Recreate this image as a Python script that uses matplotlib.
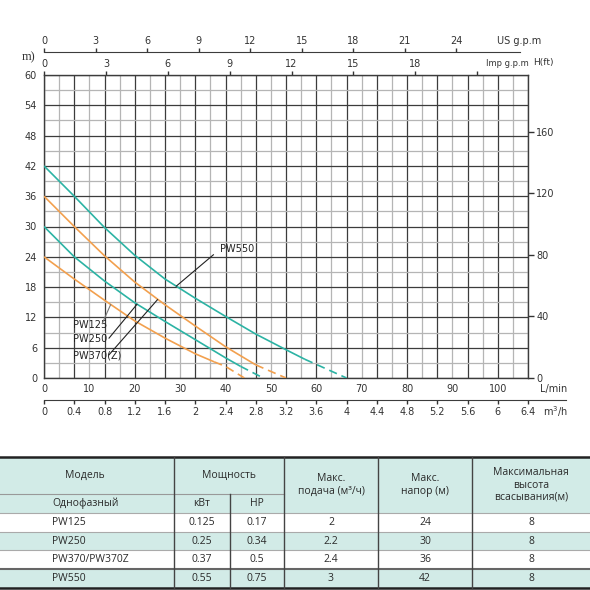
import numpy as np
import matplotlib
matplotlib.use('Agg')
import matplotlib.pyplot as plt
from matplotlib.ticker import MultipleLocator
from matplotlib.patches import Rectangle

plt.rcParams['font.family'] = ['Liberation Sans Narrow', 'DejaVu Sans']

# pump curves: flow Q (m3/h) vs head H (m); dashed beyond q_dash
q_pw125 = [0, 0.4, 0.8, 1.2, 1.6, 2.0, 2.25, 2.4, 2.65]
h_pw125 = [24, 19.6, 15.4, 11.3, 7.9, 4.8, 3.2, 2.3, 0]
q_pw250 = [0, 0.4, 0.8, 1.2, 1.6, 2.0, 2.4, 2.6, 2.9]
h_pw250 = [30, 24, 19.2, 14.9, 11.2, 7.6, 4.0, 2.3, 0]
q_pw370 = [0, 0.4, 0.8, 1.2, 1.6, 2.0, 2.4, 2.8, 3.2]
h_pw370 = [36, 30, 24.2, 19, 14.5, 10.3, 6.2, 2.6, 0]
q_pw550 = [0, 0.4, 0.8, 1.2, 1.6, 2.0, 2.4, 2.8, 3.2, 3.45, 3.6, 4.0]
h_pw550 = [42, 36, 29.8, 24.3, 19.6, 15.8, 12.2, 8.7, 5.6, 3.7, 2.7, 0]
q_dash = [2.25, 2.6, 2.8, 3.45]

curve_names = ['PW125', 'PW250', 'PW370(Z)', 'PW550']
curve_colors = ['#f2a04e', '#2cb3a4', '#f2a04e', '#2cb3a4']

# table
col_head = ['Модель', 'Мощность', 'Макс.\nподача (м³/ч)', 'Макс.\nнапор (м)',
            'Максимальная\nвысота\nвсасывания(м)']
sub_head = ['Однофазный', 'кВт', 'HP']
models = ['PW125', 'PW250', 'PW370/PW370Z', 'PW550']
kw = ['0.125', '0.25', '0.37', '0.55']
hp = ['0.17', '0.34', '0.5', '0.75']
max_flow = ['2', '2.2', '2.4', '3']
max_head = ['24', '30', '36', '42']
max_suction = ['8', '8', '8', '8']

W = 590
fig = plt.figure(figsize=(5.9, 5.9), dpi=100)
ax = fig.add_axes([44/W, 1-378/W, 484/W, 303/W])
ax.set_xlim(0, 6.4)
ax.set_ylim(0, 60)

ax.xaxis.set_major_locator(MultipleLocator(0.4))
ax.xaxis.set_minor_locator(MultipleLocator(0.2))
ax.yaxis.set_major_locator(MultipleLocator(6))
ax.yaxis.set_minor_locator(MultipleLocator(3))
ax.grid(which='minor', color='#b5b5b5', lw=0.9)
ax.grid(which='major', color='#3c3c3c', lw=0.9)
ax.set_axisbelow(True)
ax.tick_params(which='both', length=0)
ax.tick_params(axis='x', labelbottom=False)
ax.tick_params(axis='y', labelsize=7, pad=5, colors='#333')
for s in ax.spines.values():
    s.set_color('#3c3c3c')
    s.set_linewidth(1.0)

for q, h, qd, c in zip([q_pw125, q_pw250, q_pw370, q_pw550],
                       [h_pw125, h_pw250, h_pw370, h_pw550], q_dash, curve_colors):
    q = np.array(q)
    h = np.array(h)
    ax.plot(q[q <= qd], h[q <= qd], color=c, lw=1.2, solid_capstyle='butt', zorder=3)
    ax.plot(q[q >= qd], h[q >= qd], color=c, lw=1.2, dashes=(5, 3), zorder=3)

# curve labels with leader lines
ax.text(2.33, 25.5, 'PW550', fontsize=7, va='center', color='#222')
ax.plot([2.24, 1.75], [24.4, 18.2], color='#222', lw=0.8, zorder=4)
ax.text(0.39, 10.4, 'PW125', fontsize=7, va='center', color='#222')
ax.plot([0.77, 0.88], [10.8, 14.5], color='#777', lw=0.8, zorder=4)
ax.text(0.39, 7.7, 'PW250', fontsize=7, va='center', color='#222')
ax.plot([0.86, 1.23], [7.9, 14.6], color='#222', lw=0.8, zorder=4)
ax.text(0.39, 4.4, 'PW370(Z)', fontsize=7, va='center', color='#222')
ax.plot([0.86, 1.50], [4.6, 15.5], color='#222', lw=0.8, zorder=4)

# L/min labels under the grid
lmin = ax.secondary_xaxis('bottom', functions=(lambda q: q*1000/60, lambda l: l*60/1000))
lmin.set_xticks(np.arange(0, 101, 10))
lmin.tick_params(length=0, pad=4, labelsize=7, colors='#333')
lmin.spines['bottom'].set_visible(False)

# m3/h axis below
m3 = ax.secondary_xaxis(-22/303, functions=(lambda q: q, lambda q: q))
m3.set_xticks(np.arange(0, 6.41, 0.4))
m3.set_xticklabels(['%g' % round(v, 1) for v in np.arange(0, 6.41, 0.4)])
m3.tick_params(direction='out', length=3, width=1, pad=2, labelsize=7, colors='#333')
m3.spines['bottom'].set_bounds(0, 6.9)
m3.spines['bottom'].set_color('#3c3c3c')

# Imp g.p.m on top of grid
imp = ax.secondary_xaxis('top', functions=(lambda q: q*3.6662, lambda g: g/3.6662))
imp.set_xticks(np.arange(0, 22, 3), labels=['0', '3', '6', '9', '12', '15', '18', ''])
imp.tick_params(direction='out', length=3, width=1, pad=1.5, labelsize=7, colors='#333')
imp.spines['top'].set_visible(False)

# US g.p.m line above
us = ax.secondary_xaxis(326/303, functions=(lambda q: q*4.4029, lambda g: g/4.4029))
us.set_xticks(np.arange(0, 25, 3))
us.tick_params(direction='out', length=3, width=1, pad=1.5, labelsize=7, colors='#333')
us.spines['top'].set_bounds(0, 27.7)
us.spines['top'].set_color('#3c3c3c')

# H(ft) on the right
ft = ax.secondary_yaxis('right', functions=(lambda h: h*3.2808, lambda f: f/3.2808))
ft.set_yticks([0, 40, 80, 120, 160])
ft.tick_params(direction='out', length=4, width=1, pad=2, labelsize=7, colors='#333')
ft.spines['right'].set_visible(False)


def ftxt(x, y, s, **kw):
    fig.text(x/W, 1-y/W, s, **kw)


ftxt(497, 41, 'US g.p.m', fontsize=7, va='center', color='#333')
ftxt(529, 63, 'Imp g.p.m', fontsize=6, va='center', ha='right', color='#333')
ftxt(533, 63, 'H(ft)', fontsize=6.5, va='center', color='#333')
ftxt(22, 57, 'm)', fontsize=9, va='center', family='Liberation Serif', color='#333')
ftxt(540, 389, 'L/min', fontsize=7, va='center', color='#333')
ftxt(543, 412, 'm$^3$/h', fontsize=7, va='center', color='#333')

# table
tb = fig.add_axes([0, 0, 1, 135/W])
tb.set_xlim(0, W)
tb.set_ylim(590, 455)
tb.axis('off')
col_x = [0, 174, 230, 284, 378, 472, 590]
row_y = [457, 494, 513, 532, 550, 569, 588]
teal_bg = '#d2ebe7'
tfont = dict(family=['Open Sans', 'DejaVu Sans'], fontsize=7.5, color='#2a2a2a',
             va='center', linespacing=1.15)

tb.add_patch(Rectangle((0, row_y[0]), W, row_y[2]-row_y[0], color=teal_bg, lw=0))
for i in range(4):
    bg = teal_bg if i % 2 == 1 else 'white'
    tb.add_patch(Rectangle((0, row_y[i+2]), W, row_y[i+3]-row_y[i+2], color=bg, lw=0))

tb.plot([0, col_x[3]], [row_y[1]]*2, color='#999', lw=0.8)
for y in row_y[2:5]:
    tb.plot([0, W], [y, y], color='#aaa', lw=0.8)
tb.plot([0, W], [row_y[5]]*2, color='#666', lw=1.5)
tb.plot([0, W], [row_y[0]]*2, color='#222', lw=1.8)
tb.plot([0, W], [row_y[6]]*2, color='#222', lw=1.8)
for x in [col_x[1], col_x[3], col_x[4], col_x[5]]:
    tb.plot([x, x], [row_y[0], row_y[6]], color='#444', lw=1.0)
tb.plot([col_x[2]]*2, [row_y[1], row_y[6]], color='#444', lw=1.0)

yh = (row_y[0]+row_y[1])/2
tb.text(85, yh, col_head[0], ha='center', **tfont)
tb.text((col_x[1]+col_x[3])/2, yh, col_head[1], ha='center', **tfont)
for j in range(2, 5):
    tb.text((col_x[j+1]+col_x[j+2])/2, (row_y[0]+row_y[2])/2, col_head[j],
            ha='center', multialignment='center', **tfont)
ys = (row_y[1]+row_y[2])/2
tb.text(52, ys, sub_head[0], ha='left', **tfont)
tb.text((col_x[1]+col_x[2])/2, ys, sub_head[1], ha='center', **tfont)
tb.text((col_x[2]+col_x[3])/2, ys, sub_head[2], ha='center', **tfont)

for i in range(4):
    y = (row_y[i+2]+row_y[i+3])/2
    tb.text(52, y, models[i], ha='left', **tfont)
    for j, v in enumerate([kw[i], hp[i], max_flow[i], max_head[i], max_suction[i]]):
        tb.text((col_x[j+1]+col_x[j+2])/2, y, v, ha='center', **tfont)

fig.savefig('out.png', dpi=100)
